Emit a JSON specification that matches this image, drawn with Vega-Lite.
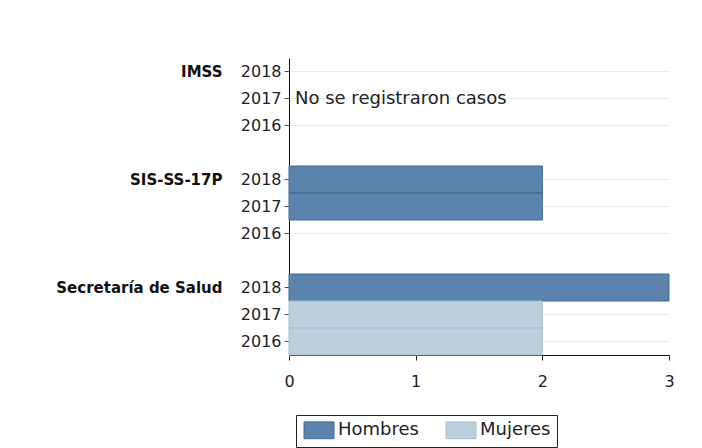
{
  "$schema": "https://vega.github.io/schema/vega-lite/v6.json",
  "width": 380,
  "height": 297,
  "autosize": {"type": "none"},
  "padding": {"left": 289, "top": 58, "right": 33, "bottom": 93},
  "config": {
    "font": "DejaVu Sans",
    "view": {"stroke": null},
    "axis": {"labelColor": "#222222", "labelFont": "DejaVu Sans"}
  },
  "datasets": {
    "casos": [
      {"institucion": "SIS-SS-17P", "anio": "2018", "fila": "SIS-SS-17P|2018", "sexo": "Hombres", "casos": 2},
      {"institucion": "SIS-SS-17P", "anio": "2017", "fila": "SIS-SS-17P|2017", "sexo": "Hombres", "casos": 2},
      {"institucion": "Secretaría de Salud", "anio": "2018", "fila": "Secretaría de Salud|2018", "sexo": "Hombres", "casos": 3},
      {"institucion": "Secretaría de Salud", "anio": "2017", "fila": "Secretaría de Salud|2017", "sexo": "Mujeres", "casos": 2},
      {"institucion": "Secretaría de Salud", "anio": "2016", "fila": "Secretaría de Salud|2016", "sexo": "Mujeres", "casos": 2}
    ],
    "nota": [
      {"institucion": "IMSS", "fila": "IMSS|2017", "casos": 0, "texto": "No se registraron casos"}
    ]
  },
  "layer": [
    {
      "data": {"name": "casos"},
      "mark": {"type": "bar", "strokeWidth": 1},
      "encoding": {
        "y": {
          "field": "fila",
          "type": "nominal",
          "scale": {
            "domain": ["IMSS|2018", "IMSS|2017", "IMSS|2016", "gap1", "SIS-SS-17P|2018", "SIS-SS-17P|2017", "SIS-SS-17P|2016", "gap2", "Secretaría de Salud|2018", "Secretaría de Salud|2017", "Secretaría de Salud|2016"],
            "paddingInner": 0,
            "paddingOuter": 0
          },
          "axis": {
            "orient": "left",
            "title": null,
            "values": ["IMSS|2018", "IMSS|2017", "IMSS|2016", "SIS-SS-17P|2018", "SIS-SS-17P|2017", "SIS-SS-17P|2016", "Secretaría de Salud|2018", "Secretaría de Salud|2017", "Secretaría de Salud|2016"],
            "labelExpr": "split(datum.value, '|')[1]",
            "labelFontSize": 16,
            "labelPadding": 3,
            "tickSize": 5,
            "tickColor": "#555555",
            "domainColor": "#111111",
            "grid": true,
            "gridColor": "#e6edf1",
            "gridWidth": 1.2
          }
        },
        "x": {
          "field": "casos",
          "type": "quantitative",
          "scale": {"domain": [0, 3], "nice": false},
          "axis": {
            "title": null,
            "values": [0, 1, 2, 3],
            "format": "d",
            "grid": false,
            "labelFlush": false,
            "labelFontSize": 16,
            "labelPadding": 13,
            "tickSize": 5,
            "tickColor": "#222222",
            "domainColor": "#111111"
          }
        },
        "fill": {
          "field": "sexo",
          "type": "nominal",
          "scale": {"domain": ["Hombres", "Mujeres"], "range": ["#5b84ad", "#bccfdc"]},
          "legend": {
            "orient": "none",
            "legendX": 7,
            "legendY": 357,
            "direction": "horizontal",
            "title": null,
            "strokeColor": "#222222",
            "padding": 6,
            "symbolType": "M-1,-1.2H3.286V1.2H-1Z",
            "symbolSize": 196,
            "symbolStrokeWidth": 1,
            "labelFontSize": 18,
            "labelColor": "#222222",
            "labelOffset": 18,
            "columnPadding": 25
          }
        },
        "stroke": {
          "field": "sexo",
          "type": "nominal",
          "scale": {"domain": ["Hombres", "Mujeres"], "range": ["#3d6a99", "#a8bece"]}
        }
      }
    },
    {
      "data": {"name": "nota"},
      "mark": {"type": "text", "align": "left", "baseline": "middle", "dx": 6, "fontSize": 18, "color": "#222222"},
      "encoding": {
        "y": {
          "field": "fila",
          "type": "nominal",
          "axis": {
            "orient": "left",
            "title": null,
            "values": ["IMSS|2018", "SIS-SS-17P|2018", "Secretaría de Salud|2018"],
            "labelExpr": "split(datum.value, '|')[0]",
            "labelFontSize": 15,
            "labelFontWeight": "bold",
            "labelColor": "#111111",
            "labelPadding": 67,
            "ticks": false,
            "domain": false,
            "grid": false
          }
        },
        "x": {"field": "casos", "type": "quantitative"},
        "text": {"field": "texto"}
      }
    }
  ],
  "resolve": {"axis": {"y": "independent"}}
}
